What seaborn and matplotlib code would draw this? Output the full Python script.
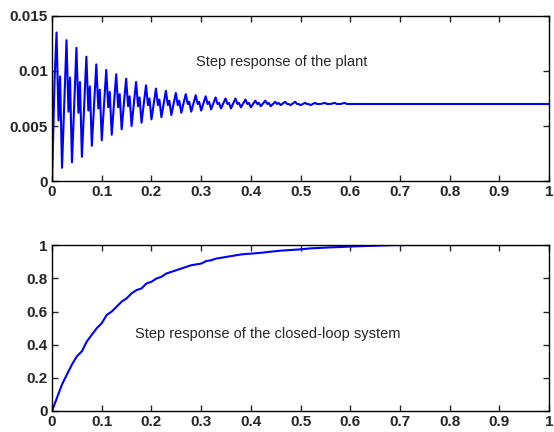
import numpy as np
import pandas as pd
import matplotlib
matplotlib.use("Agg")
import matplotlib.pyplot as plt
import seaborn as sns

# plant step response: one oscillation cycle every 0.02 s
plant_peaks = [0.0135, 0.0128, 0.0121, 0.0113, 0.0106, 0.0101, 0.0097, 0.0093, 0.0090, 0.0087,
               0.0084, 0.0082, 0.0080, 0.0079, 0.0078, 0.0077, 0.0076, 0.0075, 0.0075, 0.0074,
               0.0073, 0.0073, 0.0072, 0.0072, 0.0072, 0.0071, 0.0071, 0.0071, 0.0071, 0.0071]
plant_dips = [0.0055, 0.0063, 0.0062, 0.0064, 0.0066, 0.0067, 0.0067, 0.0068, 0.0068, 0.0069,
              0.0069, 0.0069, 0.0069, 0.0070, 0.0070, 0.0070, 0.0070, 0.0070, 0.0070, 0.0070,
              0.0070, 0.0070, 0.0070, 0.0070, 0.0070, 0.0070, 0.0070, 0.0070, 0.0070, 0.0070]
plant_humps = [0.0095, 0.0094, 0.0090, 0.0086, 0.0083, 0.0081, 0.0079, 0.0077, 0.0076, 0.0075,
               0.0074, 0.0073, 0.0073, 0.0072, 0.0072, 0.0072, 0.0071, 0.0071, 0.0071, 0.0071,
               0.0071, 0.0071, 0.0071, 0.0070, 0.0070, 0.0070, 0.0070, 0.0070, 0.0070, 0.0070]
plant_troughs = [0.0012, 0.0017, 0.0022, 0.0032, 0.0037, 0.0042, 0.0047, 0.0050, 0.0053, 0.0056,
                 0.0058, 0.0060, 0.0062, 0.0063, 0.0064, 0.0065, 0.0066, 0.0066, 0.0067, 0.0067,
                 0.0068, 0.0068, 0.0069, 0.0069, 0.0069, 0.0069, 0.0070, 0.0070, 0.0070, 0.0070]
plant_final = 0.0070

# closed-loop step response
cl_t = [0, 0.01, 0.02, 0.03, 0.04, 0.05, 0.06, 0.07, 0.08, 0.09, 0.10, 0.11, 0.12, 0.13, 0.14,
        0.15, 0.16, 0.17, 0.18, 0.19, 0.20, 0.21, 0.22, 0.23, 0.24, 0.25, 0.26, 0.27, 0.28, 0.29,
        0.30, 0.31, 0.32, 0.33, 0.34, 0.35, 0.36, 0.37, 0.38, 0.39, 0.40, 0.42, 0.44, 0.46, 0.48,
        0.50, 0.52, 0.54, 0.56, 0.58, 0.60, 0.62, 0.64, 0.66, 0.68, 0.70, 1.0]
cl_y = [0, 0.08, 0.16, 0.22, 0.28, 0.33, 0.36, 0.42, 0.46, 0.50, 0.53, 0.58, 0.60, 0.63, 0.66,
        0.68, 0.71, 0.73, 0.74, 0.77, 0.78, 0.80, 0.81, 0.83, 0.84, 0.85, 0.86, 0.87, 0.88, 0.885,
        0.89, 0.905, 0.91, 0.92, 0.925, 0.93, 0.935, 0.94, 0.945, 0.948, 0.95, 0.955, 0.962, 0.968, 0.972,
        0.976, 0.982, 0.985, 0.988, 0.99, 0.993, 0.995, 0.997, 0.999, 1.001, 1.002, 1.002]

x_ticks = [0, 0.1, 0.2, 0.3, 0.4, 0.5, 0.6, 0.7, 0.8, 0.9, 1]
x_labels = ["0", "0.1", "0.2", "0.3", "0.4", "0.5", "0.6", "0.7", "0.8", "0.9", "1"]
top_yticks = [0, 0.005, 0.01, 0.015]
top_ylabels = ["0", "0.005", "0.01", "0.015"]
bot_yticks = [0, 0.2, 0.4, 0.6, 0.8, 1]
bot_ylabels = ["0", "0.2", "0.4", "0.6", "0.8", "1"]

# build the plant trace from the read values
t_plant = [0.0, 0.005]
y_plant = [0.0, 0.0092]
for k in range(len(plant_peaks)):
    base = 0.009 + 0.02 * k
    t_plant += [base, base + 0.004, base + 0.007, base + 0.011]
    y_plant += [plant_peaks[k], plant_dips[k], plant_humps[k], plant_troughs[k]]
t_plant += [0.62, 1.0]
y_plant += [plant_final, plant_final]
plant = pd.DataFrame({"t": t_plant, "y": y_plant})
closed = pd.DataFrame({"t": cl_t, "y": cl_y})

sns.set_style("ticks")
plt.rcParams["font.family"] = ["Liberation Sans", "DejaVu Sans"]

fig = plt.figure(figsize=(5.54, 4.32), dpi=100)
ax1 = fig.add_axes([0.094, 0.581, 0.897, 0.382])
ax2 = fig.add_axes([0.094, 0.049, 0.897, 0.383])

sns.lineplot(data=plant, x="t", y="y", ax=ax1, sort=False, estimator=None, color="#0000ff", linewidth=1.5)
sns.lineplot(data=closed, x="t", y="y", ax=ax2, sort=False, estimator=None, color="#0000ff", linewidth=1.5)

ax1.set_ylim(0, 0.015)
ax1.set_yticks(top_yticks)
ax1.set_yticklabels(top_ylabels)
ax2.set_ylim(0, 1)
ax2.set_yticks(bot_yticks)
ax2.set_yticklabels(bot_ylabels)

for ax in (ax1, ax2):
    ax.set_xlim(0, 1)
    ax.set_xticks(x_ticks)
    ax.set_xticklabels(x_labels)
    ax.set_xlabel("")
    ax.set_ylabel("")
    ax.tick_params(direction="in", top=True, right=True, length=4, width=1,
                   labelsize=11, pad=3)
    for lbl in ax.get_xticklabels() + ax.get_yticklabels():
        lbl.set_fontweight("bold")
    for sp in ax.spines.values():
        sp.set_visible(True)
        sp.set_linewidth(1.0)
        sp.set_color("black")

ax1.text(0.29, 0.0108, "Step response of the plant", fontsize=10.5, ha="left", va="center")
ax2.text(0.167, 0.465, "Step response of the closed-loop system", fontsize=10.5, ha="left", va="center")

fig.savefig("out.png", dpi=100)
